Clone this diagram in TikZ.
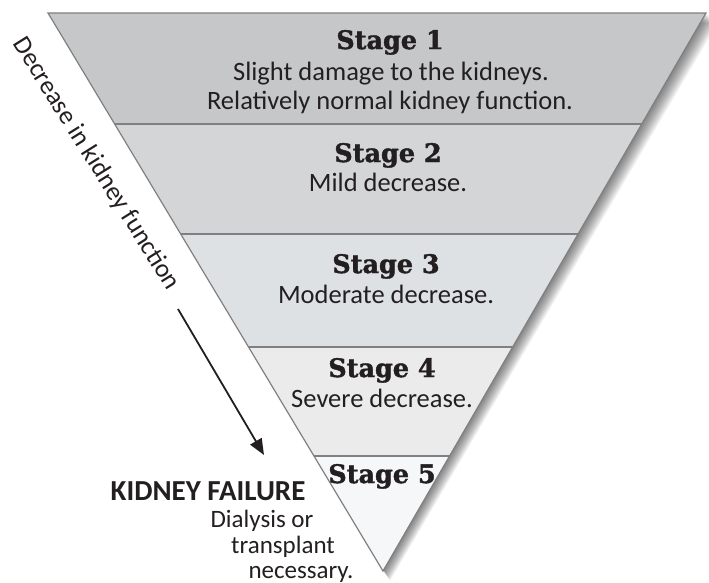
\documentclass[tikz,border=0pt]{standalone}
\usepackage{fontspec}
\setmainfont{Carlito}
\newfontfamily\stagefont{DejaVu Serif}[BoldFont={DejaVu Serif Bold},BoldFeatures={FakeBold=1.6}]
\usetikzlibrary{calc,arrows.meta}
\definecolor{ink}{HTML}{231F20}
\definecolor{edge}{HTML}{808080}
\definecolor{bandA}{HTML}{C5C7C9}
\definecolor{bandB}{HTML}{D3D5D7}
\definecolor{bandC}{HTML}{DEE1E4}
\definecolor{bandD}{HTML}{EBEBEC}
\definecolor{bandE}{HTML}{F6F7F8}
\tikzset{
  stagehead/.style={anchor=base,inner sep=0pt,text=ink,font=\stagefont\bfseries\fontsize{25.5}{30}\selectfont},
  stagetext/.style={anchor=base,inner sep=0pt,text=ink,font=\fontsize{26.5}{30}\selectfont},
  sidetext/.style={anchor=base,inner sep=0pt,text=ink,font=\fontsize{25}{30}\selectfont},
  divider/.style={draw=edge,line width=1.6pt},
  outline/.style={draw=edge,line width=1.2pt,line join=miter},
  arrowline/.style={draw=ink,line width=1.8pt,-{Triangle[length=16pt,width=13pt]}}
}
\begin{document}
\begin{tikzpicture}[x=1pt,y=-1pt]
\useasboundingbox (0,0) rectangle (709,582);
\coordinate (TL) at (48,13);
\coordinate (TR) at (706,13);
\coordinate (A) at (383,571);
% band boundaries
\coordinate (L1) at ($(TL)!0.199!(A)$);
\coordinate (R1) at ($(TR)!0.199!(A)$);
\coordinate (L2) at ($(TL)!0.396!(A)$);
\coordinate (R2) at ($(TR)!0.396!(A)$);
\coordinate (L3) at ($(TL)!0.599!(A)$);
\coordinate (R3) at ($(TR)!0.599!(A)$);
\coordinate (L4) at ($(TL)!0.794!(A)$);
\coordinate (R4) at ($(TR)!0.794!(A)$);
% soft shadow
\foreach \o in {1,2,...,12}{
  \fill[black,opacity=0.05] ($(TL)+(\o,\o*0.8)$) -- ($(TR)+(\o,\o*0.8)$) -- ($(A)+(\o*0.6,\o*0.8)$) -- cycle;
}
% bands
\fill[bandA] (TL) -- (TR) -- (R1) -- (L1) -- cycle;
\fill[bandB] (L1) -- (R1) -- (R2) -- (L2) -- cycle;
\fill[bandC] (L2) -- (R2) -- (R3) -- (L3) -- cycle;
\fill[bandD] (L3) -- (R3) -- (R4) -- (L4) -- cycle;
\fill[bandE] (L4) -- (R4) -- (A) -- cycle;
\draw[divider] (L1) -- (R1);
\draw[divider] (L2) -- (R2);
\draw[divider] (L3) -- (R3);
\draw[divider] (L4) -- (R4);
\draw[outline] (TL) -- (TR) -- (A) -- cycle;
% stage texts
\node[stagehead] (s1) at (390,49) {Stage 1};
\node[stagetext] (d1a) at (391,80) {Slight damage to the kidneys.};
\node[stagetext] (d1b) at (390,109) {Relatively normal kidney function.};
\node[stagehead] (s2) at (388,162) {Stage 2};
\node[stagetext] (d2) at (388,191) {Mild decrease.};
\node[stagehead] (s3) at (386,273) {Stage 3};
\node[stagetext] (d3) at (386,303) {Moderate decrease.};
\node[stagehead] (s4) at (382,377) {Stage 4};
\node[stagetext] (d4) at (382,407) {Severe decrease.};
\node[stagehead] (s5) at (382,483) {Stage 5};
% side label and arrow
\node[inner sep=0pt,text=ink,font=\fontsize{26}{30}\selectfont,rotate=-58] (lab) at (96,164) {Decrease in kidney function};
\coordinate (arS) at (178,309);
\coordinate (arE) at (264,455);
\draw[arrowline] (arS) -- (arE);
% kidney failure
\node[anchor=base,inner sep=0pt,text=ink,font=\bfseries\fontsize{29}{32}\selectfont] (kf) at (208,500) {KIDNEY FAILURE};
\node[sidetext] (kf1) at (262,527) {Dialysis or};
\node[sidetext] (kf2) at (283,553) {transplant};
\node[sidetext] (kf3) at (301,578) {necessary.};
\end{tikzpicture}
\end{document}
